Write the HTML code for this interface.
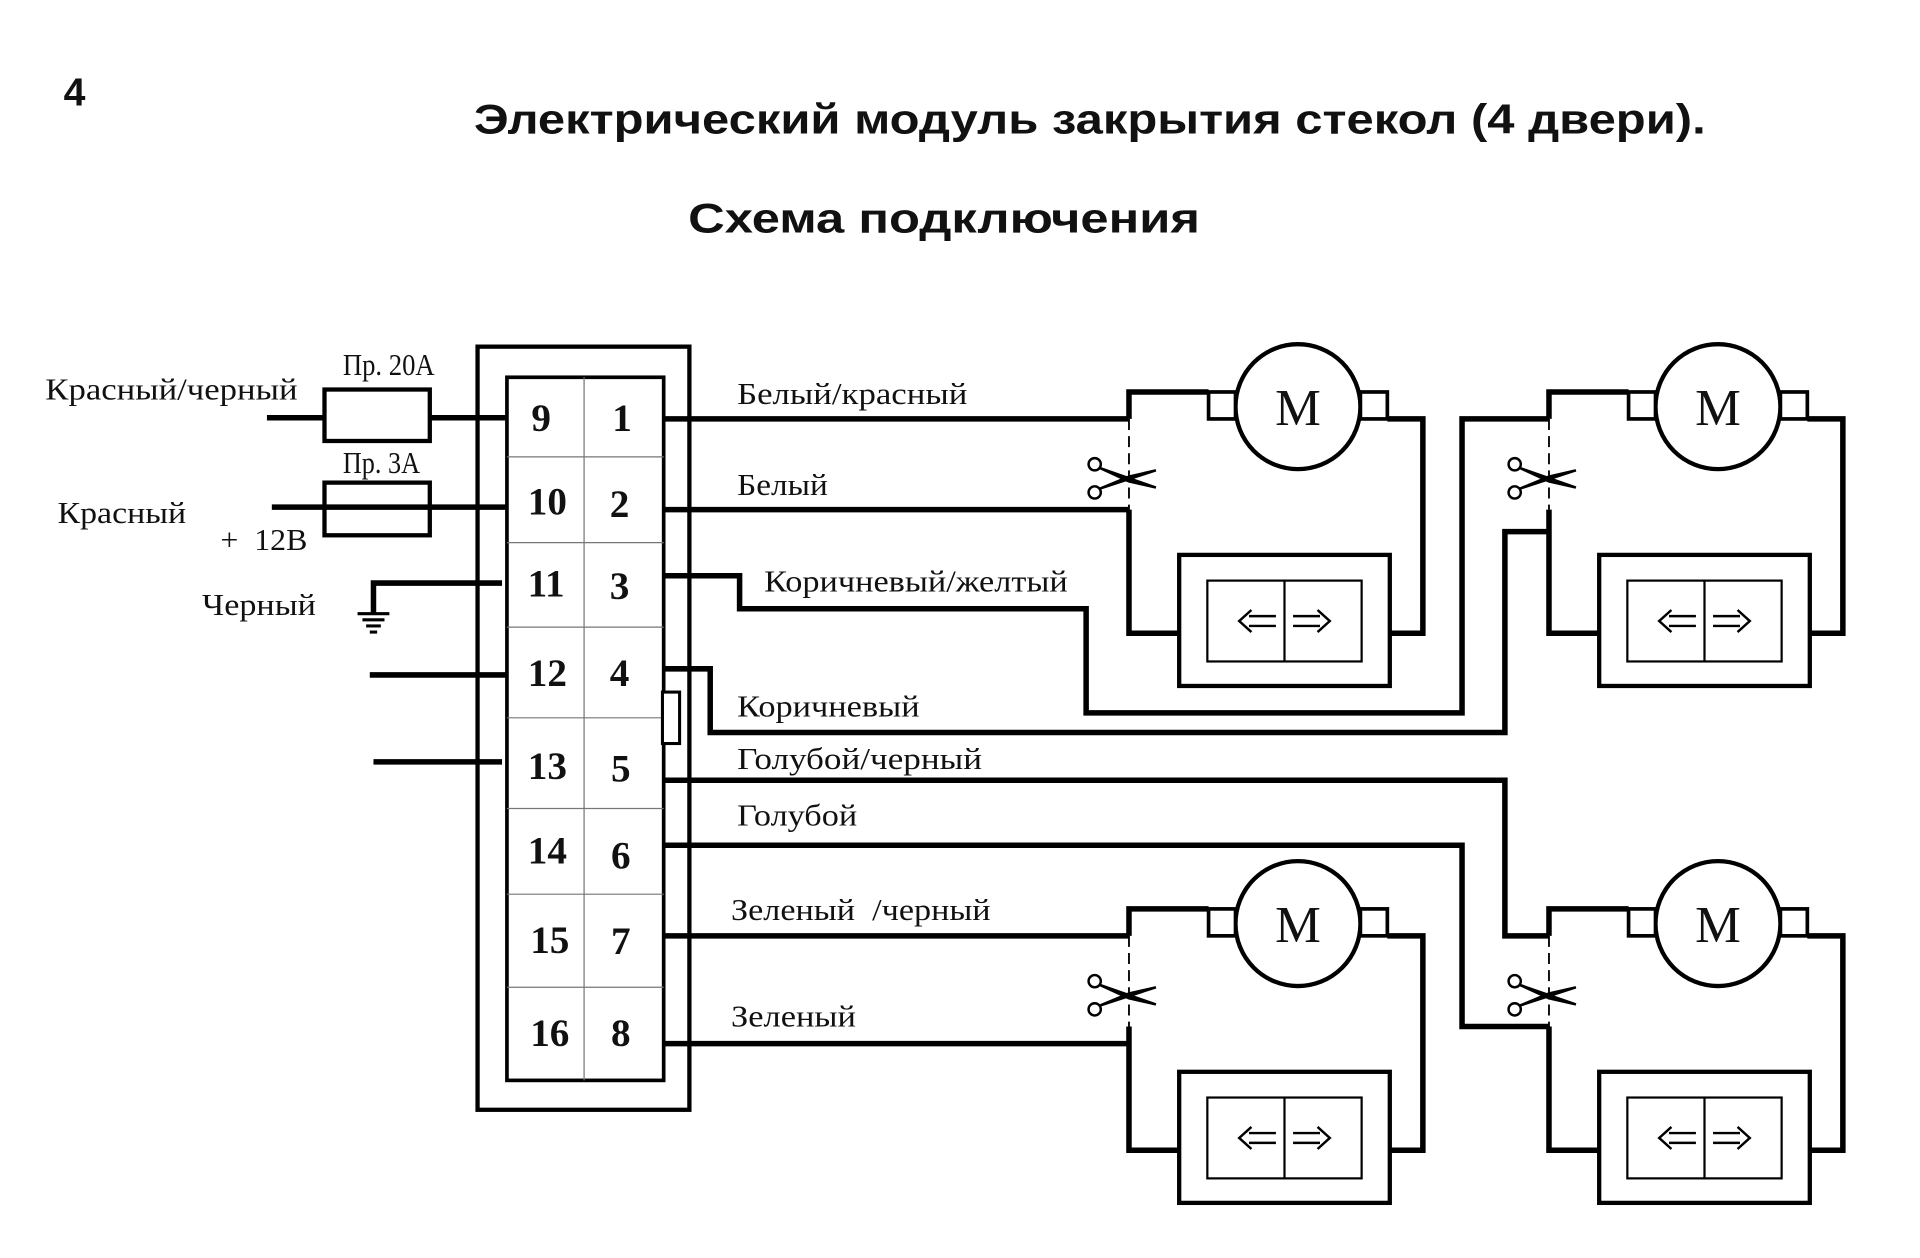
<!DOCTYPE html>
<html><head><meta charset="utf-8"><style>
html,body{margin:0;padding:0;background:#fff;}
svg{display:block}
.s{font-family:"Liberation Serif","Noto Serif CJK SC",serif;font-size:25px;fill:#111}
.t{font-family:"Liberation Sans","Noto Sans CJK SC",sans-serif;font-weight:bold;fill:#111}
.n{font-family:"Liberation Serif","Noto Serif CJK SC",serif;font-weight:bold;font-size:32px;fill:#111;text-anchor:middle}
</style></head><body>
<svg width="1920" height="1258" viewBox="0 0 1568 1027" preserveAspectRatio="none" xmlns="http://www.w3.org/2000/svg">
<defs>
<g id="door">
  <circle cx="1060" cy="332" r="51" fill="#fff" stroke="#000" stroke-width="3.5"/>
  <text x="1060" y="347" font-family="Liberation Serif, serif" font-size="42" text-anchor="middle" fill="#111">M</text>
  <rect x="987" y="320" width="22" height="22" fill="#fff" stroke="#000" stroke-width="3"/>
  <rect x="1111" y="320" width="22" height="22" fill="#fff" stroke="#000" stroke-width="3"/>
  <polyline points="922,342 922,320 987,320" fill="none" stroke="#000" stroke-width="4.5"/>
  <polyline points="1133,342 1162,342 1162,517 1135,517" fill="none" stroke="#000" stroke-width="4.5"/>
  <polyline points="922,416 922,517 963,517" fill="none" stroke="#000" stroke-width="4.5"/>
  <line x1="922" y1="342" x2="922" y2="416" stroke="#000" stroke-width="1.5" stroke-dasharray="9,5"/>
  <circle cx="894" cy="379" r="5" fill="none" stroke="#000" stroke-width="2"/>
  <circle cx="894" cy="402" r="5" fill="none" stroke="#000" stroke-width="2"/>
  <path d="M898,382 L944,398 L922,393 Z M898,399 L944,384 L922,389 Z" fill="#000" stroke="#000" stroke-width="2"/>
  <rect x="963" y="453" width="172" height="107" fill="#fff" stroke="#000" stroke-width="3.5"/>
  <rect x="986" y="474" width="126" height="66" fill="#fff" stroke="#000" stroke-width="1.8"/>
  <line x1="1049" y1="474" x2="1049" y2="540" stroke="#000" stroke-width="1.8"/>
  <g stroke="#000" stroke-width="2" fill="none">
    <path d="M1042,503 H1020 M1042,511 H1020 M1022,498 L1012,507 L1022,516"/>
    <path d="M1056,503 H1078 M1056,511 H1078 M1076,498 L1086,507 L1076,516"/>
  </g>
</g>
</defs>
<rect width="1568" height="1027" fill="#fff"/>
<text class="t" x="52" y="86" font-size="32">4</text>
<text class="t" x="387" y="109" font-size="34" textLength="1006" lengthAdjust="spacingAndGlyphs">Электрический модуль закрытия стекол (4 двери).</text>
<text class="t" x="562" y="190" font-size="34" textLength="418" lengthAdjust="spacingAndGlyphs">Схема подключения</text>

<rect x="390" y="283" width="173" height="623" fill="none" stroke="#000" stroke-width="3.5"/>
<rect x="414" y="308" width="128" height="574" fill="#fff" stroke="#000" stroke-width="3"/>
<g stroke="#777" stroke-width="1">
<line x1="477" y1="308" x2="477" y2="882"/>
<line x1="414" y1="373" x2="542" y2="373"/><line x1="414" y1="443" x2="542" y2="443"/>
<line x1="414" y1="512" x2="542" y2="512"/><line x1="414" y1="586" x2="542" y2="586"/>
<line x1="414" y1="660" x2="542" y2="660"/><line x1="414" y1="730" x2="542" y2="730"/>
<line x1="414" y1="806" x2="542" y2="806"/>
</g>
<text class="n" x="442" y="352">9</text><text class="n" x="508" y="352">1</text>
<text class="n" x="447" y="420">10</text><text class="n" x="506" y="422">2</text>
<text class="n" x="446" y="487">11</text><text class="n" x="506" y="489">3</text>
<text class="n" x="447" y="560">12</text><text class="n" x="506" y="560">4</text>
<text class="n" x="447" y="636">13</text><text class="n" x="507" y="638">5</text>
<text class="n" x="447" y="705">14</text><text class="n" x="507" y="709">6</text>
<text class="n" x="449" y="778">15</text><text class="n" x="507" y="779">7</text>
<text class="n" x="449" y="854">16</text><text class="n" x="507" y="854">8</text>

<g stroke="#000" stroke-width="4.5" fill="none">
<line x1="218" y1="341" x2="414" y2="341"/>
<line x1="222" y1="414" x2="414" y2="414"/>
<polyline points="305,500 305,476 410,476"/>
<line x1="302" y1="551" x2="414" y2="551"/>
<line x1="305" y1="622" x2="410" y2="622"/>
</g>
<rect x="265" y="318" width="86" height="42" fill="#fff" stroke="#000" stroke-width="3.5"/>
<rect x="265" y="394" width="86" height="43" fill="none" stroke="#000" stroke-width="3.5"/>
<g stroke="#000" stroke-width="2.5">
<line x1="292" y1="501" x2="318" y2="501"/><line x1="296" y1="506" x2="314" y2="506"/>
<line x1="299" y1="511" x2="311" y2="511"/><line x1="302" y1="516" x2="308" y2="516"/>
</g>
<text class="s" x="280" y="306" font-size="20" textLength="75" lengthAdjust="spacingAndGlyphs">Пр. 20А</text>
<text class="s" x="280" y="386" font-size="20" textLength="63" lengthAdjust="spacingAndGlyphs">Пр. 3А</text>
<text class="s" x="37" y="326" textLength="206" lengthAdjust="spacingAndGlyphs">Красный/черный</text>
<text class="s" x="47" y="427" textLength="105" lengthAdjust="spacingAndGlyphs">Красный</text>
<text class="s" x="180" y="449" textLength="71" lengthAdjust="spacingAndGlyphs">+&#160;&#160;12В</text>
<text class="s" x="165" y="502" textLength="93" lengthAdjust="spacingAndGlyphs">Черный</text>

<g stroke="#000" stroke-width="4.5" fill="none">
<line x1="542" y1="342" x2="922" y2="342"/>
<line x1="542" y1="416" x2="922" y2="416"/>
<polyline points="542,470 604,470 604,497 887,497 887,582 1194,582 1194,342 1265,342"/>
<polyline points="542,546 580,546 580,598 1229,598 1229,434 1265,434"/>
<polyline points="542,637 1229,637 1229,764 1265,764"/>
<polyline points="542,690 1194,690 1194,838 1265,838"/>
<line x1="542" y1="764" x2="922" y2="764"/>
<line x1="542" y1="852" x2="922" y2="852"/>
</g>
<rect x="541" y="565" width="14" height="42" fill="#fff" stroke="#000" stroke-width="2.5"/>

<use href="#door"/>
<use href="#door" transform="translate(343,0)"/>
<use href="#door" transform="translate(0,422)"/>
<use href="#door" transform="translate(343,422)"/>

<text class="s" x="602" y="330" textLength="188" lengthAdjust="spacingAndGlyphs">Белый/красный</text>
<text class="s" x="602" y="404" textLength="74" lengthAdjust="spacingAndGlyphs">Белый</text>
<text class="s" x="624" y="483" textLength="248" lengthAdjust="spacingAndGlyphs">Коричневый/желтый</text>
<text class="s" x="602" y="585" textLength="149" lengthAdjust="spacingAndGlyphs">Коричневый</text>
<text class="s" x="602" y="628" textLength="200" lengthAdjust="spacingAndGlyphs">Голубой/черный</text>
<text class="s" x="602" y="674" textLength="98" lengthAdjust="spacingAndGlyphs">Голубой</text>
<text class="s" x="597" y="751" textLength="212" lengthAdjust="spacingAndGlyphs" xml:space="preserve">Зеленый  /черный</text>
<text class="s" x="597" y="838" textLength="102" lengthAdjust="spacingAndGlyphs">Зеленый</text>
</svg>
</body></html>
